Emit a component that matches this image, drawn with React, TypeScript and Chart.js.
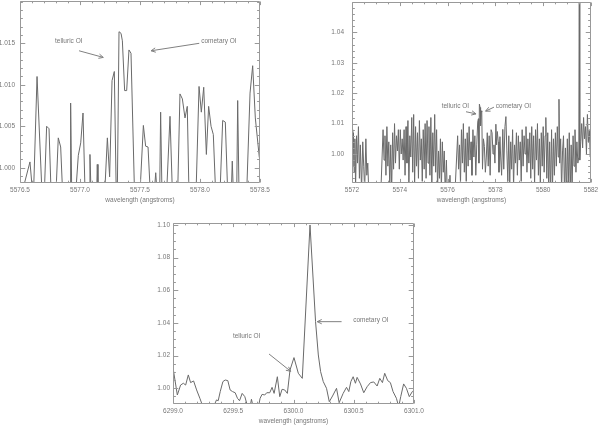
import React, { useEffect, useRef } from "react";
import { Chart, registerables } from "chart.js";

Chart.register(...registerables);

const W = 600;
const H = 425;
const FONT = "'Liberation Sans', Arial, sans-serif";
const FSIZE = 6.5;
const TEXT = "#777777";
const FRAME = "#999999";
const LINE = "#6a6a6a";
const X_TITLE = "wavelength (angstroms)";

// ---------- Panel 1 : 5576.5 - 5578.5 A ----------
const wl1 = [5576.517, 5576.583, 5576.611, 5576.642, 5576.686, 5576.703, 5576.722, 5576.742, 5576.761, 5576.8, 5576.819, 5576.839, 5576.858, 5576.917, 5576.922, 5576.931, 5576.967, 5576.986, 5577.006, 5577.025, 5577.044, 5577.078, 5577.083, 5577.092, 5577.139, 5577.144, 5577.15, 5577.206, 5577.228, 5577.247, 5577.267, 5577.286, 5577.303, 5577.311, 5577.325, 5577.342, 5577.353, 5577.372, 5577.389, 5577.408, 5577.425, 5577.456, 5577.5, 5577.528, 5577.547, 5577.567, 5577.589, 5577.619, 5577.631, 5577.642, 5577.664, 5577.672, 5577.683, 5577.722, 5577.75, 5577.772, 5577.814, 5577.833, 5577.853, 5577.875, 5577.894, 5577.908, 5577.967, 5577.992, 5578.011, 5578.031, 5578.053, 5578.072, 5578.092, 5578.111, 5578.133, 5578.167, 5578.189, 5578.211, 5578.233, 5578.261, 5578.269, 5578.278, 5578.306, 5578.314, 5578.325, 5578.389, 5578.417, 5578.439, 5578.461, 5578.494, 5578.506];
const flux1 = [0.997, 1.0007, 0.996, 1.011, 0.996, 0.997, 1.005, 1.0047, 0.996, 0.997, 1.0036, 1.0025, 0.996, 0.997, 1.0078, 0.997, 0.9975, 1.0015, 1.003, 1.0066, 0.996, 0.997, 1.0016, 0.997, 0.997, 1.0004, 0.997, 0.997, 1.0036, 0.9989, 1.0105, 1.0116, 0.996, 0.997, 1.0164, 1.0162, 1.0153, 1.0093, 1.0093, 1.0142, 1.0138, 0.996, 0.997, 1.0051, 1.0026, 1.0025, 0.996, 0.997, 0.9994, 0.997, 0.997, 1.0067, 0.997, 0.997, 1.0062, 0.996, 0.997, 1.0089, 1.0083, 1.006, 1.0074, 0.997, 0.997, 1.0098, 1.0067, 1.0097, 1.0016, 1.0074, 1.005, 1.004, 0.996, 0.997, 1.0057, 1.0055, 0.996, 0.997, 1.0008, 0.997, 0.997, 1.0081, 0.997, 0.997, 1.009, 1.0123, 1.006, 1.0013, 1.0005];
const xTicks1 = [5576.5, 5577.0, 5577.5, 5578.0, 5578.5];
const yTicks1 = [1.0, 1.005, 1.01, 1.015];

// ---------- Panel 2 : 5572 - 5582 A ----------
const spec2: [number, number][] = [
  [5572.00, 1.008], [5572.03, 0.996], [5572.06, 1.007], [5572.09, 0.994], [5572.12, 1.005], [5572.15, 0.989], [5572.19, 1.006], [5572.23, 0.997], [5572.27, 1.009], [5572.31, 0.992], [5572.35, 1.003], [5572.40, 0.988], [5572.45, 1.004], [5572.49, 0.996], [5572.53, 0.988], [5572.58, 1.005], [5572.62, 0.993], [5572.66, 0.997], [5572.70, 0.988], [5572.80, 0.986], [5573.00, 0.985], [5573.20, 0.986],
  [5573.30, 1.008], [5573.34, 0.998], [5573.38, 1.006], [5573.42, 0.993], [5573.46, 1.009], [5573.50, 0.996], [5573.54, 1.004], [5573.58, 0.989], [5573.62, 1.003], [5573.66, 0.988], [5573.70, 1.007], [5573.74, 0.995], [5573.78, 1.010], [5573.82, 0.997], [5573.86, 1.006], [5573.90, 1.001], [5573.94, 1.008], [5573.98, 0.995],
  [5574.02, 1.008], [5574.06, 1.000], [5574.10, 1.005], [5574.14, 0.998], [5574.18, 1.008], [5574.22, 0.993], [5574.26, 1.009], [5574.30, 0.997], [5574.34, 1.011], [5574.38, 0.989], [5574.42, 1.006], [5574.46, 0.999], [5574.50, 1.012], [5574.54, 0.994], [5574.58, 1.013], [5574.62, 0.990], [5574.66, 1.009], [5574.70, 0.996], [5574.74, 1.007], [5574.78, 0.992], [5574.82, 1.011], [5574.86, 0.998], [5574.90, 1.005], [5574.94, 0.991], [5574.98, 1.008],
  [5575.02, 0.995], [5575.06, 1.010], [5575.10, 0.992], [5575.14, 1.011], [5575.18, 0.997], [5575.22, 1.009], [5575.26, 0.993], [5575.30, 1.012], [5575.34, 0.990], [5575.38, 1.007], [5575.42, 0.996], [5575.46, 1.013], [5575.50, 0.994], [5575.54, 1.008], [5575.58, 0.988], [5575.62, 1.001], [5575.66, 0.992], [5575.70, 1.005], [5575.74, 0.988], [5575.78, 1.004], [5575.82, 0.994], [5575.86, 1.001], [5575.90, 0.987], [5575.95, 0.998], [5575.99, 0.986],
  [5576.04, 0.985], [5576.10, 0.993], [5576.14, 0.985], [5576.30, 0.986],
  [5576.42, 1.006], [5576.46, 0.995], [5576.50, 1.003], [5576.54, 0.990], [5576.58, 1.008], [5576.62, 0.997], [5576.66, 1.010], [5576.70, 0.994], [5576.74, 1.005], [5576.78, 0.991], [5576.82, 1.007], [5576.86, 0.996], [5576.90, 1.009], [5576.94, 0.998], [5576.98, 1.004], [5577.02, 0.993], [5577.06, 1.008], [5577.10, 0.999], [5577.14, 1.006], [5577.18, 0.993], [5577.22, 1.003],
  [5577.26, 1.0105], [5577.29, 1.0116], [5577.31, 0.997], [5577.33, 1.0164], [5577.36, 1.0153], [5577.38, 1.0093], [5577.41, 1.0142], [5577.43, 1.0138], [5577.46, 0.995],
  [5577.50, 1.005], [5577.54, 1.0025], [5577.58, 0.994], [5577.62, 0.999], [5577.66, 1.007], [5577.70, 0.996], [5577.74, 1.006], [5577.78, 0.993], [5577.82, 1.008], [5577.86, 1.007], [5577.90, 1.000], [5577.94, 1.003], [5577.98, 0.997], [5578.02, 1.0098], [5578.05, 1.003], [5578.08, 1.0074], [5578.12, 1.004], [5578.15, 0.994], [5578.19, 1.0057], [5578.22, 0.999], [5578.26, 0.993], [5578.31, 1.0081], [5578.35, 0.995], [5578.40, 1.009], [5578.44, 1.0123], [5578.48, 1.001],
  [5578.52, 0.991], [5578.56, 1.006], [5578.60, 0.990], [5578.64, 1.004], [5578.68, 0.995], [5578.72, 1.008], [5578.76, 0.989], [5578.80, 1.003], [5578.84, 0.997], [5578.88, 1.007], [5578.92, 0.993], [5578.96, 1.006], [5579.00, 0.998], [5579.04, 1.004], [5579.08, 0.991], [5579.12, 1.008], [5579.16, 0.996], [5579.20, 1.006], [5579.24, 1.000], [5579.28, 1.009], [5579.32, 0.994], [5579.36, 1.005], [5579.40, 0.997], [5579.44, 1.007], [5579.48, 0.992], [5579.52, 1.009], [5579.56, 0.995], [5579.60, 1.006], [5579.64, 0.990], [5579.68, 1.008], [5579.72, 0.998], [5579.76, 1.010], [5579.80, 0.993], [5579.84, 1.005], [5579.88, 0.990], [5579.92, 1.007], [5579.96, 0.996],
  [5580.00, 1.009], [5580.04, 0.994], [5580.08, 1.006], [5580.11, 1.012], [5580.15, 0.992], [5580.19, 1.007], [5580.23, 0.988], [5580.27, 1.004], [5580.31, 0.987], [5580.35, 1.008], [5580.39, 0.989], [5580.43, 1.005], [5580.47, 0.993], [5580.51, 1.007], [5580.55, 0.996], [5580.59, 1.009], [5580.63, 0.999], [5580.66, 1.018], [5580.69, 0.997], [5580.73, 1.005], [5580.77, 0.988], [5580.81, 1.001], [5580.85, 1.006], [5580.89, 0.987], [5580.93, 1.002], [5580.97, 0.986],
  [5581.01, 1.005], [5581.05, 0.989], [5581.09, 1.007], [5581.13, 0.987], [5581.17, 1.003], [5581.21, 0.988], [5581.25, 1.006], [5581.29, 0.996], [5581.33, 1.008], [5581.37, 0.994], [5581.41, 1.004], [5581.45, 0.997], [5581.49, 0.999], [5581.51, 1.070], [5581.53, 0.998], [5581.57, 1.004], [5581.61, 1.010], [5581.65, 1.002], [5581.69, 1.012], [5581.73, 1.005], [5581.77, 1.009], [5581.81, 1.000], [5581.85, 1.013], [5581.89, 1.004], [5581.93, 1.008], [5581.97, 0.999], [5582.00, 1.005],
];
const xTicks2 = [5572, 5574, 5576, 5578, 5580, 5582];
const yTicks2 = [1.0, 1.01, 1.02, 1.03, 1.04];

// ---------- Panel 3 : 6299 - 6301 A ----------
const spec3: [number, number][] = [
  [6299.003, 1.0112], [6299.036, 0.9959], [6299.063, 1.002], [6299.086, 1.0031], [6299.105, 1.002], [6299.127, 1.0082], [6299.146, 1.0035], [6299.171, 1.0045], [6299.196, 0.999], [6299.223, 0.9939], [6299.248, 0.9888],
  [6299.337, 0.9888], [6299.361, 0.9929], [6299.375, 0.9924], [6299.392, 0.998], [6299.414, 1.0041], [6299.433, 1.0051], [6299.455, 1.0047], [6299.474, 0.999], [6299.494, 0.998], [6299.516, 0.9973], [6299.535, 0.9939], [6299.552, 0.9924], [6299.574, 0.9969], [6299.596, 0.9949], [6299.618, 0.9892], [6299.64, 0.9888], [6299.651, 0.9933], [6299.665, 0.9888],
  [6299.709, 0.9888], [6299.723, 0.9939], [6299.739, 0.9963], [6299.761, 0.9959], [6299.778, 0.9973], [6299.803, 0.9973], [6299.822, 1.0006], [6299.839, 0.9969], [6299.866, 1.0071], [6299.886, 0.9949], [6299.905, 0.9994], [6299.927, 0.999], [6299.949, 0.9969],
  [6299.971, 1.0112], [6300.004, 1.0188], [6300.04, 1.0092], [6300.073, 1.0061], [6300.137, 1.1], [6300.183, 1.0408], [6300.206, 1.0204], [6300.225, 1.0102], [6300.247, 1.0041], [6300.274, 1.0], [6300.297, 0.9918],
  [6300.324, 0.9953], [6300.357, 1.0], [6300.379, 0.9912], [6300.412, 0.9969], [6300.44, 1.0006], [6300.459, 0.998], [6300.476, 1.0041], [6300.495, 1.0071], [6300.514, 1.0031], [6300.528, 1.0067], [6300.556, 1.0027], [6300.583, 0.9973], [6300.611, 1.001], [6300.639, 1.0035], [6300.666, 1.0039], [6300.694, 1.0014], [6300.716, 1.0061], [6300.738, 1.0035], [6300.757, 1.0092], [6300.782, 1.0047], [6300.804, 1.0035], [6300.826, 0.998], [6300.854, 0.9939], [6300.873, 0.9888], [6300.89, 0.9949], [6300.914, 1.0027], [6300.937, 1.0], [6300.961, 0.9949], [6300.986, 0.998], [6301.006, 0.9994],
];
const xTicks3 = [6299.0, 6299.5, 6300.0, 6300.5, 6301.0];
const yTicks3 = [1.0, 1.02, 1.04, 1.06, 1.08, 1.1];

type Note = { text: string; x: number; y: number; arrow: [number, number, number, number] };

const notes1: Note[] = [
  { text: "telluric OI", x: 5576.792, y: 1.0152, arrow: [5576.992, 1.0141, 5577.194, 1.0133] },
  { text: "cometary OI", x: 5578.01, y: 1.0152, arrow: [5577.994, 1.0150, 5577.592, 1.0141] },
];
const notes2: Note[] = [
  { text: "telluric OI", x: 5575.753, y: 1.0158, arrow: [5576.77, 1.0139, 5577.19, 1.0132] },
  { text: "cometary OI", x: 5578.01, y: 1.0158, arrow: [5577.94, 1.0154, 5577.59, 1.0141] },
];
const notes3: Note[] = [
  { text: "telluric OI", x: 6299.497, y: 1.0316, arrow: [6299.797, 1.021, 6299.977, 1.0104] },
  { text: "cometary OI", x: 6300.495, y: 1.0418, arrow: [6300.399, 1.0408, 6300.197, 1.0408] },
];

type Panel = {
  points: { x: number; y: number }[];
  area: { l: number; t: number; r: number; b: number };
  xMin: number; xMax: number; yMin: number; yMax: number;
  xTicks: number[]; yTicks: number[];
  xDec: number; yDec: number;
  xMinor: number; yMinor: number;
  yPad: number;
  notes: Note[];
};

const XH = 21;

function buildChart(canvas: HTMLCanvasElement, p: Panel) {
  const idlPlugin = {
    id: "idlFrame",
    afterDatasetsDraw(chart: any) {
      const ctx = chart.ctx as CanvasRenderingContext2D;
      const a = chart.chartArea;
      const xs = chart.scales.x;
      const ys = chart.scales.y;
      const L = Math.round(a.left) + 0.5;
      const R = Math.round(a.right) - 0.5;
      const T = Math.round(a.top) + 0.5;
      const B = Math.round(a.bottom) - 0.5;
      ctx.save();
      ctx.strokeStyle = FRAME;
      ctx.lineWidth = 1;
      ctx.beginPath();
      ctx.rect(L, T, R - L, B - T);
      ctx.stroke();
      const xMajLen = 0.02 * (B - T);
      const yMajLen = 0.02 * (R - L);
      const isMajor = (v: number, arr: number[], step: number) =>
        arr.some((m) => Math.abs(m - v) < step * 0.01);
      ctx.beginPath();
      const kx0 = Math.ceil(p.xMin / p.xMinor - 1e-6);
      const kx1 = Math.floor(p.xMax / p.xMinor + 1e-6);
      for (let k = kx0; k <= kx1; k++) {
        const v = k * p.xMinor;
        const len = isMajor(v, p.xTicks, p.xMinor) ? xMajLen : xMajLen / 2;
        const px = Math.round(xs.getPixelForValue(v)) + 0.5;
        ctx.moveTo(px, B);
        ctx.lineTo(px, B - len);
        ctx.moveTo(px, T);
        ctx.lineTo(px, T + len);
      }
      const ky0 = Math.ceil(p.yMin / p.yMinor - 1e-6);
      const ky1 = Math.floor(p.yMax / p.yMinor + 1e-6);
      for (let k = ky0; k <= ky1; k++) {
        const v = k * p.yMinor;
        const len = isMajor(v, p.yTicks, p.yMinor) ? yMajLen : yMajLen / 2;
        const py = Math.round(ys.getPixelForValue(v)) + 0.5;
        ctx.moveTo(L, py);
        ctx.lineTo(L + len, py);
        ctx.moveTo(R, py);
        ctx.lineTo(R - len, py);
      }
      ctx.stroke();

      ctx.fillStyle = TEXT;
      ctx.strokeStyle = "#808080";
      ctx.font = `${FSIZE}px ${FONT}`;
      ctx.textBaseline = "middle";
      ctx.textAlign = "left";
      for (const n of p.notes) {
        ctx.fillText(n.text, xs.getPixelForValue(n.x), ys.getPixelForValue(n.y));
        const x0 = xs.getPixelForValue(n.arrow[0]);
        const y0 = ys.getPixelForValue(n.arrow[1]);
        const x1 = xs.getPixelForValue(n.arrow[2]);
        const y1 = ys.getPixelForValue(n.arrow[3]);
        const ang = Math.atan2(y1 - y0, x1 - x0);
        const hl = 5;
        ctx.beginPath();
        ctx.moveTo(x0, y0);
        ctx.lineTo(x1, y1);
        ctx.moveTo(x1 - hl * Math.cos(ang - 0.45), y1 - hl * Math.sin(ang - 0.45));
        ctx.lineTo(x1, y1);
        ctx.lineTo(x1 - hl * Math.cos(ang + 0.45), y1 - hl * Math.sin(ang + 0.45));
        ctx.stroke();
      }
      ctx.restore();
    },
  };

  const font = { family: FONT, size: FSIZE };

  return new Chart(canvas, {
    type: "line",
    data: {
      datasets: [
        {
          data: p.points,
          borderColor: LINE,
          borderWidth: 1,
          pointRadius: 0,
          tension: 0,
          fill: false,
        },
      ],
    },
    options: {
      responsive: false,
      animation: false,
      devicePixelRatio: 1,
      parsing: false,
      events: [],
      layout: {
        padding: { left: 0, top: p.area.t, right: W - p.area.r, bottom: H - p.area.b - XH },
      },
      plugins: { legend: { display: false }, tooltip: { enabled: false } },
      scales: {
        x: {
          type: "linear",
          min: p.xMin,
          max: p.xMax,
          grid: { display: false, drawTicks: false },
          border: { display: false },
          ticks: {
            color: TEXT,
            font,
            padding: 3,
            maxRotation: 0,
            autoSkip: false,
            callback: (v: any) => Number(v).toFixed(p.xDec),
          },
          afterBuildTicks: (s: any) => {
            s.ticks = p.xTicks.map((v) => ({ value: v }));
          },
          title: { display: true, text: X_TITLE, color: TEXT, font, padding: { top: 0, bottom: 0 } },
          afterFit: (s: any) => {
            s.height = XH;
            s.paddingLeft = 0;
            s.paddingRight = 0;
          },
        },
        y: {
          type: "linear",
          min: p.yMin,
          max: p.yMax,
          grid: { display: false, drawTicks: false },
          border: { display: false },
          ticks: {
            color: TEXT,
            font,
            padding: p.yPad,
            autoSkip: false,
            callback: (v: any) => Number(v).toFixed(p.yDec),
          },
          afterBuildTicks: (s: any) => {
            s.ticks = p.yTicks.map((v) => ({ value: v }));
          },
          afterFit: (s: any) => {
            s.width = p.area.l;
            s.paddingTop = 0;
            s.paddingBottom = 0;
          },
        },
      },
    } as any,
    plugins: [idlPlugin],
  });
}

const panel1: Panel = {
  points: wl1.map((x, i) => ({ x, y: flux1[i] })),
  area: { l: 20, t: 1, r: 260, b: 183 },
  xMin: 5576.5, xMax: 5578.5, yMin: 0.99816, yMax: 1.0201,
  xTicks: xTicks1, yTicks: yTicks1, xDec: 1, yDec: 3,
  xMinor: 0.1, yMinor: 0.001, yPad: 5, notes: notes1,
};
const panel2: Panel = {
  points: spec2.map(([x, y]) => ({ x, y })),
  area: { l: 352, t: 2, r: 591, b: 183 },
  xMin: 5572, xMax: 5582, yMin: 0.99046, yMax: 1.05,
  xTicks: xTicks2, yTicks: yTicks2, xDec: 0, yDec: 2,
  xMinor: 0.5, yMinor: 0.002, yPad: 8, notes: notes2,
};
const panel3: Panel = {
  points: spec3.map(([x, y]) => ({ x, y })),
  area: { l: 173, t: 223, r: 414, b: 404 },
  xMin: 6299.0, xMax: 6301.0, yMin: 0.9904, yMax: 1.1012,
  xTicks: xTicks3, yTicks: yTicks3, xDec: 1, yDec: 2,
  xMinor: 0.1, yMinor: 0.005, yPad: 3, notes: notes3,
};

export default function App() {
  const r1 = useRef<HTMLCanvasElement>(null);
  const r2 = useRef<HTMLCanvasElement>(null);
  const r3 = useRef<HTMLCanvasElement>(null);

  useEffect(() => {
    const charts = [
      buildChart(r1.current!, panel1),
      buildChart(r2.current!, panel2),
      buildChart(r3.current!, panel3),
    ];
    return () => charts.forEach((c) => c.destroy());
  }, []);

  const cs: React.CSSProperties = { position: "absolute", left: 0, top: 0, width: W, height: H };
  return (
    <div style={{ position: "absolute", left: 0, top: 0, width: W, height: H, background: "#ffffff" }}>
      <canvas ref={r1} width={W} height={H} style={cs} />
      <canvas ref={r2} width={W} height={H} style={cs} />
      <canvas ref={r3} width={W} height={H} style={cs} />
    </div>
  );
}
